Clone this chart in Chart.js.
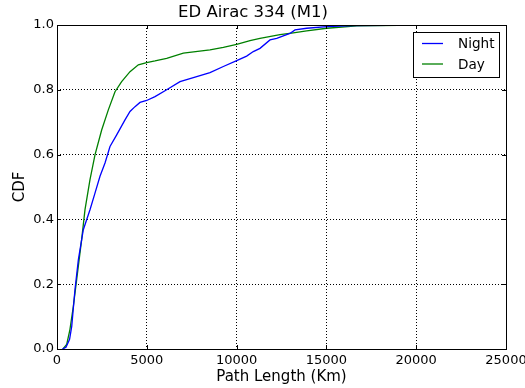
<!DOCTYPE html>
<html>
<head>
<meta charset="utf-8">
<script src="https://cdn.jsdelivr.net/npm/chart.js@4/dist/chart.umd.min.js"></script>
<style>
  body { margin: 0; background: #fff; }
  canvas { display: block; }
</style>
</head>
<body>
<canvas id="cdfChart" width="525" height="388"></canvas>
<script>
// Path length (km) vs CDF
const nightX = [300, 500, 700, 820, 1000, 1190, 1465, 1837, 2115, 2394, 2673, 2951, 3323, 3786, 4065, 4343, 4621, 4993, 5457, 6107, 6849, 7778, 8518, 9262, 10004, 10560, 10930, 11303, 11860, 12233, 12970, 13252, 13903, 15017, 16500, 18500, 20500];
const nightY = [0, 0.005, 0.03, 0.07, 0.183, 0.276, 0.368, 0.43, 0.481, 0.533, 0.574, 0.625, 0.661, 0.707, 0.733, 0.748, 0.761, 0.767, 0.779, 0.8, 0.825, 0.841, 0.853, 0.872, 0.89, 0.904, 0.918, 0.928, 0.954, 0.959, 0.974, 0.985, 0.99, 0.995, 0.998, 0.999, 1.0];
const dayX = [330, 540, 720, 910, 1095, 1370, 1559, 1837, 2115, 2487, 2858, 3229, 3600, 4065, 4529, 4993, 5457, 6107, 7035, 8518, 9262, 10004, 10746, 11303, 12417, 13157, 13903, 15017, 16700, 19000, 22800];
const dayY = [0, 0.014, 0.06, 0.132, 0.214, 0.337, 0.43, 0.523, 0.599, 0.676, 0.738, 0.794, 0.825, 0.856, 0.877, 0.884, 0.889, 0.897, 0.913, 0.923, 0.931, 0.94, 0.952, 0.959, 0.97, 0.976, 0.982, 0.99, 0.997, 0.999, 1.0];
const seriesNames = ['Night', 'Day'];
const xTicks = [0, 5000, 10000, 15000, 20000, 25000];
const yTicks = [0.0, 0.2, 0.4, 0.6, 0.8, 1.0];

const FONT = 'DejaVu Sans';

function toPoints(xs, ys) {
    return xs.map((x, i) => ({ x: x, y: ys[i] }));
}

// the last x label may run off the canvas, like the original,
// so the x scale should not ask for extra room on the right
const noLabelPadding = {
    id: 'noLabelPadding',
    beforeLayout(chart) {
        const xs = chart.scales.x;
        if (xs) {
            xs.getPadding = () => ({ left: 0, top: 0, right: 0, bottom: 0 });
        }
    }
};

// frame, inward ticks and legend box, matplotlib style
const framePlugin = {
    id: 'frame',
    afterDraw(chart) {
        const ctx = chart.ctx;
        const a = chart.chartArea;
        const xs = chart.scales.x, ys = chart.scales.y;
        ctx.save();
        ctx.strokeStyle = '#000';
        ctx.lineWidth = 1;
        ctx.strokeRect(Math.round(a.left) + 0.5, Math.round(a.top) + 0.5,
            Math.round(a.right - a.left), Math.round(a.bottom - a.top));
        ctx.beginPath();
        xTicks.forEach(v => {
            const px = Math.round(xs.getPixelForValue(v)) + 0.5;
            ctx.moveTo(px, a.bottom); ctx.lineTo(px, a.bottom - 4);
            ctx.moveTo(px, a.top); ctx.lineTo(px, a.top + 4);
        });
        yTicks.forEach(v => {
            const py = Math.round(ys.getPixelForValue(v)) + 0.5;
            ctx.moveTo(a.left, py); ctx.lineTo(a.left + 4, py);
            ctx.moveTo(a.right, py); ctx.lineTo(a.right - 4, py);
        });
        ctx.stroke();

        // legend
        const bx = 413, by = 32, bw = 86, bh = 45;
        ctx.fillStyle = '#fff';
        ctx.fillRect(bx, by, bw, bh);
        ctx.strokeRect(bx + 0.5, by + 0.5, bw, bh);
        ctx.font = '13.6px "' + FONT + '"';
        ctx.textBaseline = 'middle';
        ctx.textAlign = 'left';
        chart.data.datasets.forEach((ds, i) => {
            const y = by + 11.5 + i * 20.5;
            ctx.strokeStyle = ds.borderColor;
            ctx.lineWidth = ds.borderWidth;
            ctx.beginPath();
            ctx.moveTo(bx + 9, y); ctx.lineTo(bx + 30, y);
            ctx.stroke();
            ctx.fillStyle = '#000';
            ctx.fillText(ds.label, bx + 45, y + 1);
        });
        ctx.restore();
    }
};

const ctx = document.getElementById('cdfChart').getContext('2d');
new Chart(ctx, {
    type: 'scatter',
    data: {
        datasets: [{
            label: seriesNames[0],
            data: toPoints(nightX, nightY),
            borderColor: '#0000ff',
            borderWidth: 1.3,
            showLine: true,
            pointRadius: 0,
            tension: 0
        }, {
            label: seriesNames[1],
            data: toPoints(dayX, dayY),
            borderColor: '#008000',
            borderWidth: 1.3,
            showLine: true,
            pointRadius: 0,
            tension: 0
        }]
    },
    options: {
        responsive: false,
        animation: false,
        layout: { padding: { top: 0, right: 19, left: 0, bottom: 0 } },
        plugins: {
            legend: { display: false },
            tooltip: { enabled: false },
            title: {
                display: true,
                text: 'ED Airac 334 (M1)',
                color: '#000',
                font: { family: FONT, size: 16.5, weight: 'normal' },
                padding: { top: 3, bottom: 2.2 }
            }
        },
        scales: {
            x: {
                type: 'linear',
                min: 0,
                max: 25000,
                afterFit: s => { s.height = 39; },
                afterBuildTicks: s => { s.ticks = xTicks.map(v => ({ value: v })); },
                ticks: {
                    color: '#000',
                    padding: 4,
                    maxRotation: 0,
                    font: { family: FONT, size: 13 },
                    callback: v => String(v)
                },
                grid: { color: '#000', lineWidth: 1, drawTicks: false },
                border: { display: false, dash: [1, 2] },
                title: {
                    display: true,
                    text: 'Path Length (Km)',
                    color: '#000',
                    font: { family: FONT, size: 15 },
                    padding: { top: 0, bottom: 2 }
                }
            },
            y: {
                min: 0,
                max: 1,
                afterFit: s => { s.width = 57; },
                afterBuildTicks: s => { s.ticks = yTicks.map(v => ({ value: v })); },
                ticks: {
                    color: '#000',
                    padding: 3,
                    font: { family: FONT, size: 13 },
                    callback: v => Number(v).toFixed(1)
                },
                grid: { color: '#000', lineWidth: 1, drawTicks: false },
                border: { display: false, dash: [1, 2] },
                title: {
                    display: true,
                    text: 'CDF',
                    color: '#000',
                    font: { family: FONT, size: 15 },
                    padding: { top: 11, bottom: 0 }
                }
            }
        }
    },
    plugins: [noLabelPadding, framePlugin]
});
</script>
</body>
</html>
